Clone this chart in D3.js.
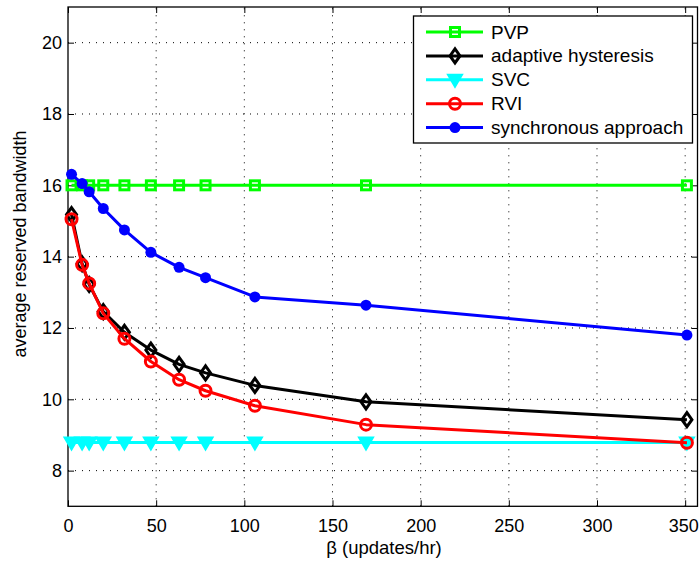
<!DOCTYPE html>
<html><head><meta charset="utf-8">
<script src="https://cdn.jsdelivr.net/npm/d3@7"></script>
<style>body{margin:0;background:#fff}svg{display:block}text{font-family:Arial,"Liberation Sans",Helvetica,sans-serif;fill:#000}</style>
</head><body><svg id="c" width="699" height="563"></svg>
<script>
const betaValues = [2, 8, 12, 20, 32, 47, 63, 78, 106, 169, 351];
const pvp = [16, 16, 16, 16, 16, 16, 16, 16, 16, 16, 16];
const adaptiveHysteresis = [15.18, 13.8, 13.22, 12.46, 11.88, 11.38, 10.98, 10.74, 10.39, 9.93, 9.43];
const svc = [8.79, 8.79, 8.79, 8.79, 8.79, 8.79, 8.79, 8.79, 8.79, 8.79, 8.79];
const rvi = [15.05, 13.77, 13.25, 12.41, 11.7, 11.06, 10.55, 10.24, 9.82, 9.29, 8.78];
const synchronous = [16.31, 16.05, 15.82, 15.35, 14.75, 14.12, 13.7, 13.41, 12.87, 12.64, 11.8];
const seriesNames = ["PVP", "adaptive hysteresis", "SVC", "RVI", "synchronous approach"];
const xTicks = [0, 50, 100, 150, 200, 250, 300, 350];
const yTicks = [8, 10, 12, 14, 16, 18, 20];

const series = [
  {name: seriesNames[0], values: pvp, color: "#00ff00", marker: "square"},
  {name: seriesNames[1], values: adaptiveHysteresis, color: "#000000", marker: "diamond"},
  {name: seriesNames[2], values: svc, color: "#00ffff", marker: "triangle"},
  {name: seriesNames[3], values: rvi, color: "#ff0000", marker: "circle"},
  {name: seriesNames[4], values: synchronous, color: "#0000ff", marker: "dot"}
];

const L = 68, R = 697.5, T = 7, B = 506.3;
const svg = d3.select("#c");
const x = d3.scaleLinear().domain([0, 357]).range([L, R]);
const y = d3.scaleLinear().domain([7, 21]).range([B, T]);

// grid
const grid = svg.append("g");
grid.selectAll(".gx").data(xTicks.filter(d => d > 0)).join("line")
  .attr("x1", d => x(d)).attr("x2", d => x(d)).attr("y1", B).attr("y2", T)
  .attr("stroke", "#000").attr("stroke-width", 1).attr("stroke-dasharray", "1,6");
grid.selectAll(".gy").data(yTicks).join("line")
  .attr("y1", d => y(d)).attr("y2", d => y(d)).attr("x1", L).attr("x2", R)
  .attr("stroke", "#000").attr("stroke-width", 1).attr("stroke-dasharray", "1,6");

// axes
const fs = "18px";
const xAxis = d3.axisBottom(x).tickValues(xTicks).tickSizeInner(-6).tickSizeOuter(0).tickPadding(13);
const gx = svg.append("g").attr("transform", `translate(0,${B})`).call(xAxis);
gx.selectAll("text").style("font-size", fs);
gx.selectAll(".tick").filter(d => d === 350).select("text").attr("x", -2);
const yAxis = d3.axisLeft(y).tickValues(yTicks).tickSizeInner(-6).tickSizeOuter(0).tickPadding(6);
const gy = svg.append("g").attr("transform", `translate(${L},0)`).call(yAxis);
gy.selectAll("text").style("font-size", fs);
const xTop = d3.axisTop(x).tickValues(xTicks).tickSizeInner(-6).tickSizeOuter(0).tickFormat("");
svg.append("g").attr("transform", `translate(0,${T})`).call(xTop);
const yRight = d3.axisRight(y).tickValues(yTicks).tickSizeInner(-6).tickSizeOuter(0).tickFormat("");
svg.append("g").attr("transform", `translate(${R},0)`).call(yRight);
svg.selectAll(".domain").remove();
svg.selectAll(".tick line").attr("stroke", "#000");
svg.append("rect").attr("x", L).attr("y", T).attr("width", R - L).attr("height", B - T)
  .attr("fill", "none").attr("stroke", "#000").attr("stroke-width", 1.3);

svg.append("text").attr("x", 384).attr("y", 554).attr("text-anchor", "middle")
  .style("font-size", "18.5px").text("β (updates/hr)");
svg.append("text").attr("transform", "translate(26,244) rotate(-90)").attr("text-anchor", "middle")
  .style("font-size", "18px").text("average reserved bandwidth");

function drawMarker(g, type, color, cx, cy) {
  if (type === "square") {
    g.append("rect").attr("x", cx - 4.5).attr("y", cy - 4.5).attr("width", 9).attr("height", 9)
      .attr("fill", "none").attr("stroke", color).attr("stroke-width", 3);
  } else if (type === "diamond") {
    g.append("path").attr("d", `M${cx},${cy - 7}L${cx + 5},${cy}L${cx},${cy + 7}L${cx - 5},${cy}Z`)
      .attr("fill", "none").attr("stroke", color).attr("stroke-width", 3);
  } else if (type === "triangle") {
    g.append("path").attr("d", `M${cx - 7},${cy - 5}L${cx + 7},${cy - 5}L${cx},${cy + 7}Z`)
      .attr("fill", color).attr("stroke", color).attr("stroke-width", 2);
  } else if (type === "circle") {
    g.append("circle").attr("cx", cx).attr("cy", cy).attr("r", 5.5)
      .attr("fill", "none").attr("stroke", color).attr("stroke-width", 3);
  } else if (type === "dot") {
    g.append("circle").attr("cx", cx).attr("cy", cy).attr("r", 5.5).attr("fill", color);
  }
}

const line = d3.line().x(d => x(d[0])).y(d => y(d[1]));
const plot = svg.append("g");
series.forEach(s => {
  const pts = betaValues.map((b, i) => [b, s.values[i]]);
  const g = plot.append("g");
  g.append("path").attr("d", line(pts)).attr("fill", "none").attr("stroke", s.color)
    .attr("stroke-width", 3).attr("stroke-linejoin", "round");
  pts.forEach(p => drawMarker(g, s.marker, s.color, x(p[0]), y(p[1])));
});

// legend
const lg = svg.append("g");
lg.append("rect").attr("x", 413.5).attr("y", 16).attr("width", 279).attr("height", 127)
  .attr("fill", "#fff").attr("stroke", "#000").attr("stroke-width", 1.3);
series.forEach((s, i) => {
  const ly = 32 + i * 23.9;
  lg.append("line").attr("x1", 426).attr("x2", 483).attr("y1", ly).attr("y2", ly)
    .attr("stroke", s.color).attr("stroke-width", 3);
  drawMarker(lg, s.marker, s.color, 455, ly);
  lg.append("text").attr("x", 491).attr("y", ly + 6.5).style("font-size", "19px").text(s.name);
});
</script></body></html>
